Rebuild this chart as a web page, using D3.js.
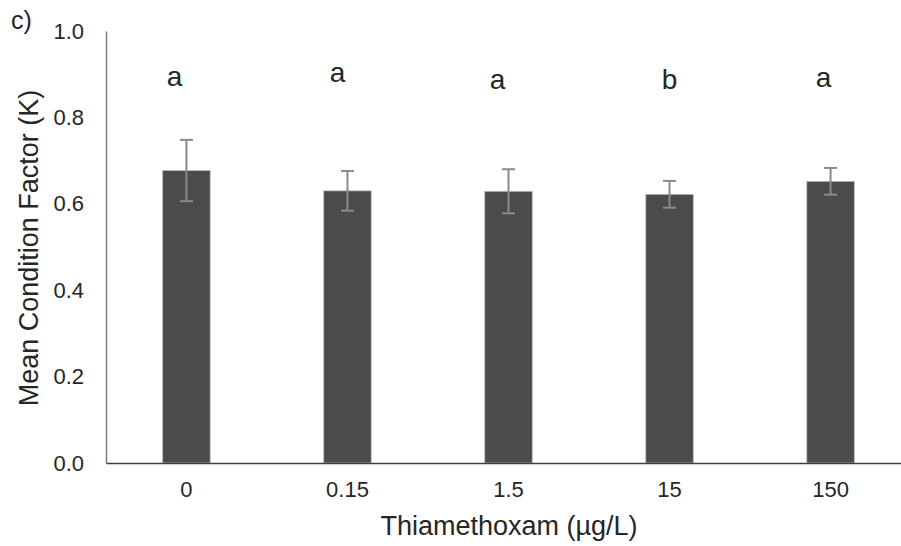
<!DOCTYPE html>
<html lang="en">
  <head>
    <meta charset="UTF-8" />
    <title></title>
    <script src="https://d3js.org/d3.v7.min.js"></script>
    <style>
      body { margin: 0; background: #fff; }
      text { font-family: Arial, 'Liberation Sans', sans-serif; fill: #262626; }
    </style>
  </head>
  <body>
    <svg id="chart" width="901" height="546"></svg>
    <script>
      // Data
      const doses = ['0', '0.15', '1.5', '15', '150']
      const means = [0.677, 0.630, 0.629, 0.622, 0.652]
      const errors = [0.071, 0.046, 0.051, 0.031, 0.031]
      const letters = ['a', 'a', 'a', 'b', 'a']
      const yTicks = [0, 0.2, 0.4, 0.6, 0.8, 1.0]

      const svg = d3.select('svg')
      const margin = { top: 31, left: 106, bottom: 83 }
      const plotRight = 911
      const plotBottom = 546 - margin.bottom

      const x = d3.scaleBand().domain(doses).range([margin.left, plotRight]).paddingInner(0.705).paddingOuter(0.352)
      const y = d3.scaleLinear().domain([0, 1]).range([plotBottom, margin.top])

      // bars
      svg.selectAll('rect.bar')
        .data(doses)
        .join('rect')
        .attr('class', 'bar')
        .attr('x', d => x(d))
        .attr('width', x.bandwidth())
        .attr('y', (d, i) => y(means[i]))
        .attr('height', (d, i) => y(0) - y(means[i]))
        .attr('fill', '#4b4b4d')
        .attr('stroke', '#bdbdbd')
        .attr('stroke-width', 0.8)

      // error bars
      const cx = d => x(d) + x.bandwidth() / 2
      const err = svg.append('g').attr('stroke', '#8a8a8a').attr('stroke-width', 2)
      doses.forEach((d, i) => {
        const top = y(means[i] + errors[i]), bot = y(means[i] - errors[i])
        err.append('line').attr('x1', cx(d)).attr('x2', cx(d)).attr('y1', top).attr('y2', bot)
        err.append('line').attr('x1', cx(d) - 6.5).attr('x2', cx(d) + 6.5).attr('y1', top).attr('y2', top)
        err.append('line').attr('x1', cx(d) - 6.5).attr('x2', cx(d) + 6.5).attr('y1', bot).attr('y2', bot)
      })

      // significance letters (slight offsets as in the original figure)
      const letterShift = [-12, -10, -11, 0, -7]
      const letterBase = [86, 82, 89, 89, 87]
      svg.selectAll('text.sig')
        .data(letters)
        .join('text')
        .attr('class', 'sig')
        .attr('x', (d, i) => cx(doses[i]) + letterShift[i])
        .attr('y', (d, i) => letterBase[i])
        .attr('text-anchor', 'middle')
        .attr('font-size', 28)
        .text(d => d)

      // y axis
      const yAxis = svg.append('g')
        .attr('transform', `translate(${margin.left},0)`)
        .call(d3.axisLeft(y).tickValues(yTicks).tickFormat(d3.format('.1f')).tickSize(0).tickPadding(22))
      yAxis.select('.domain').attr('stroke', '#7f7f7f').attr('stroke-width', 1.5)
      yAxis.selectAll('text').attr('font-size', 22).attr('fill', '#262626')

      // x axis
      const xAxis = svg.append('g')
        .attr('transform', `translate(0,${plotBottom})`)
        .call(d3.axisBottom(x).tickSize(0).tickPadding(18))
      xAxis.select('.domain').attr('stroke', '#404040').attr('stroke-width', 1.5)
      xAxis.selectAll('text').attr('font-size', 22).attr('fill', '#262626')

      // axis titles
      svg.append('text')
        .attr('x', 509)
        .attr('y', 535)
        .attr('text-anchor', 'middle')
        .attr('font-size', 27)
        .text('Thiamethoxam (µg/L)')

      svg.append('text')
        .attr('transform', 'translate(38,248) rotate(-90)')
        .attr('text-anchor', 'middle')
        .attr('font-size', 27)
        .text('Mean Condition Factor (K)')

      svg.append('text')
        .attr('x', 11)
        .attr('y', 29)
        .attr('font-size', 25)
        .text('c)')
    </script>
  </body>
</html>
